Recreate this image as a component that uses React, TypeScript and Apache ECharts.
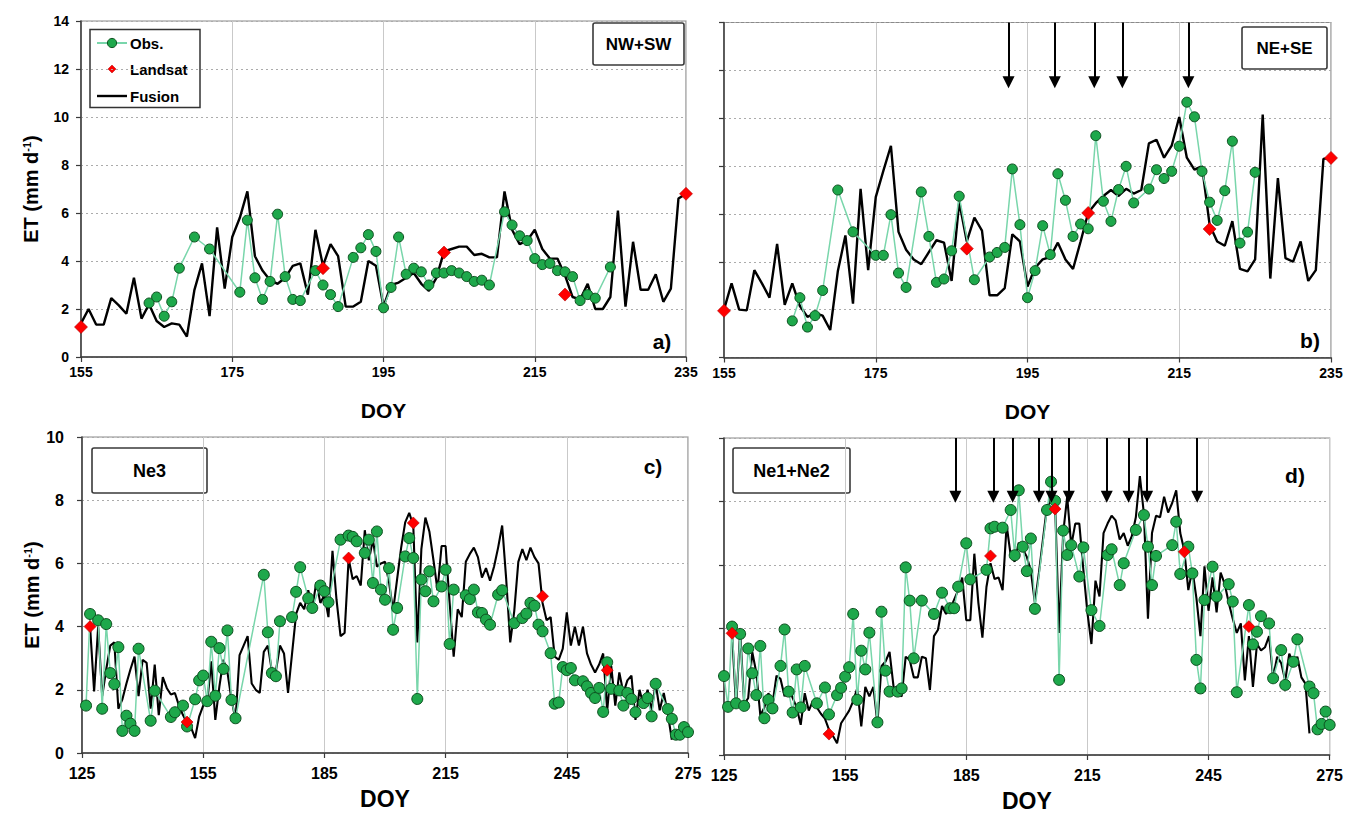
import React, { useEffect, useRef } from 'react';
import * as echarts from 'echarts';

const FONT = "'Liberation Sans', Arial, Helvetica, sans-serif";

// ---------- Panel a (NW+SW) ----------
const A_FUSION_START = 155;
const aFusion = [
  1.4, 2.0, 1.35, 1.35, 2.45, 2.15, 1.8, 3.3, 1.6, 2.2,
  1.5, 1.25, 1.4, 1.35, 0.85, 2.8, 3.9, 1.7, 5.4, 2.85,
  5.0, 5.8, 6.9, 4.2, 3.6, 3.2, 3.05, 3.3, 3.8, 3.9,
  2.6, 5.3, 3.8, 4.7, 4.2, 2.1, 2.1, 2.3, 4.0, 3.8,
  2.1, 3.0, 3.1, 3.3, 3.5, 3.05, 2.75, 3.3, 4.4, 4.5,
  4.6, 4.6, 4.25, 4.3, 4.15, 4.15, 6.9, 5.3, 4.7, 4.85,
  5.3, 4.5, 4.1, 4.1, 3.4, 2.5, 2.4, 3.05, 2.0, 2.0,
  2.5, 6.1, 2.1, 4.8, 2.8, 2.8, 3.45, 2.3, 2.85, 6.6, 6.8,
];
const aObs = [
  [164, 2.25], [165, 2.5], [166, 1.7], [167, 2.3], [168, 3.7], [170, 5.0], [172, 4.5],
  [176, 2.7], [177, 5.7], [178, 3.3], [179, 2.4], [180, 3.15], [181, 5.95], [182, 3.35],
  [183, 2.4], [184, 2.35], [186, 3.6], [187, 3.0], [188, 2.6], [189, 2.1], [191, 4.15],
  [192, 4.55], [193, 5.1], [194, 4.4], [195, 2.05], [196, 2.9], [197, 5.0], [198, 3.45],
  [199, 3.7], [200, 3.55], [201, 3.0], [202, 3.5], [203, 3.5], [204, 3.6], [205, 3.5],
  [206, 3.35], [207, 3.15], [208, 3.2], [209, 3.0], [211, 6.05], [212, 5.5], [213, 5.05],
  [214, 4.85], [215, 4.1], [216, 3.85], [217, 3.9], [218, 3.6], [219, 3.55], [220, 3.35],
  [221, 2.35], [222, 2.6], [223, 2.45], [225, 3.75],
];
const aLandsat = [[155, 1.25], [187, 3.7], [203, 4.35], [219, 2.6], [235, 6.8]];

// ---------- Panel b (NE+SE) ----------
const B_FUSION_START = 155;
const bFusion = [
  2.0, 3.1, 2.0, 1.97, 3.65, 3.1, 2.5, 4.75, 2.2, 3.1,
  2.15, 1.7, 1.85, 1.75, 1.15, 3.6, 5.1, 2.25, 7.05, 3.65,
  6.7, 7.8, 8.85, 5.25, 4.5, 4.1, 3.9, 4.4, 4.9, 4.8,
  3.2, 6.5, 4.85, 5.85, 5.3, 2.6, 2.6, 2.9, 5.15, 4.85,
  2.97, 3.75, 4.1, 4.2, 4.8, 4.1, 3.7, 4.85, 6.05, 6.45,
  6.75, 7.0, 6.75, 7.05, 6.85, 7.0, 8.95, 9.1, 8.35, 8.85,
  10.05, 8.35, 7.85, 8.0, 5.55, 4.85, 4.67, 5.7, 3.7, 3.6,
  4.1, 10.15, 3.3, 7.5, 4.15, 4.0, 4.85, 3.2, 3.65, 8.3, 8.35,
];
const bObs = [
  [164, 1.53], [165, 2.5], [166, 1.27], [167, 1.75], [168, 2.8], [170, 7.0], [172, 5.25],
  [175, 4.27], [176, 4.27], [177, 5.97], [178, 3.53], [179, 2.93], [181, 6.92], [182, 5.06],
  [183, 3.14], [184, 3.28], [185, 4.46], [186, 6.74], [188, 3.25], [190, 4.2], [191, 4.39],
  [192, 4.6], [193, 7.88], [194, 5.55], [195, 2.5], [196, 3.63], [197, 5.51], [198, 4.3],
  [199, 7.68], [200, 6.57], [201, 5.06], [202, 5.58], [203, 5.38], [204, 9.27], [205, 6.53],
  [206, 5.69], [207, 7.02], [208, 7.99], [209, 6.46], [211, 7.04], [212, 7.85], [213, 7.48],
  [214, 7.78], [215, 8.83], [216, 10.67], [217, 10.06], [218, 7.78], [219, 6.49], [220, 5.73],
  [221, 6.97], [222, 9.04], [223, 4.78], [224, 5.24], [225, 7.74],
];
const bLandsat = [[155, 1.95], [187, 4.55], [203, 6.04], [219, 5.37], [235, 8.34]];
const bArrows = [192.5, 198.6, 203.8, 207.5, 216.2];
const bArrowTop = 14;
const bArrowTip = 11.5;

// ---------- Panel c (Ne3) ----------
const C_FUSION_START = 127;
const cFusion = [
  4.0, 1.95, 4.0, 1.8, 2.65, 3.4, 3.5, 1.4, 1.7, 2.2,
  2.65, 3.05, 1.8, 2.95, 2.85, 1.4, 2.8, 1.2, 2.4, 2.05,
  1.85, 1.9, 1.5, 1.2, 0.95, 0.8, 0.47, 1.15, 1.5, 1.6,
  2.9, 1.05, 2.1, 2.95, 2.55, 1.7, 1.05, 3.1, 3.4, 3.7,
  2.2, 2.0, 1.9, 3.2, 3.4, 2.6, 2.6, 3.4, 3.15, 1.9,
  3.15, 4.4, 4.75, 4.55, 5.15, 4.6, 5.4, 4.75, 5.0, 4.3,
  6.4, 4.85, 3.7, 3.8, 6.15, 5.5, 5.6, 5.3, 7.05, 6.1,
  6.75, 5.9, 6.0, 6.05, 5.4, 4.5, 5.5, 6.5, 7.3, 7.6,
  7.2, 3.5, 6.45, 7.45, 7.0, 6.1, 5.15, 6.55, 6.55, 4.75,
  3.05, 4.55, 4.3, 6.05, 6.3, 6.5, 6.2, 5.55, 5.85, 5.45,
  5.9, 6.5, 7.2, 5.5, 3.5, 4.5, 6.05, 6.45, 6.1, 6.5,
  6.2, 6.0, 4.75, 4.2, 4.3, 3.05, 2.95, 3.3, 4.45, 3.4,
  4.0, 3.4, 4.0, 3.15, 2.8, 2.55, 2.8, 3.15, 1.35, 2.75,
  1.5, 2.55, 1.9, 2.3, 2.45, 1.05, 2.0, 1.5, 2.0, 1.35,
  2.2, 1.35, 1.9, 1.25, 0.42,
];
const cObs = [
  [126, 1.5], [127, 4.4], [129, 4.2], [130, 1.4], [131, 4.08], [132, 2.53], [133, 2.18],
  [134, 3.35], [135, 0.7], [136, 1.18], [137, 0.93], [138, 0.7], [139, 3.3], [142, 1.02],
  [143, 1.97], [147, 1.14], [148, 1.29], [150, 1.5], [151, 0.84], [153, 1.7], [154, 2.3],
  [155, 2.45], [156, 1.64], [157, 3.52], [158, 1.81], [159, 3.32], [160, 2.66], [161, 3.88],
  [162, 1.68], [163, 1.1], [170, 5.64], [171, 3.82], [172, 2.53], [173, 2.43], [174, 4.17],
  [177, 4.3], [178, 5.1], [179, 5.88], [181, 4.9], [182, 4.59], [184, 5.3], [185, 5.12],
  [186, 4.77], [189, 6.75], [191, 6.88], [192, 6.84], [193, 6.7], [195, 6.33], [196, 6.75],
  [197, 5.38], [198, 7.01], [199, 5.17], [200, 4.85], [201, 5.85], [202, 3.9], [203, 4.59],
  [205, 6.22], [206, 6.8], [207, 6.17], [208, 1.71], [209, 5.49], [210, 5.12], [211, 5.75],
  [212, 4.8], [214, 5.27], [215, 5.8], [216, 3.45], [217, 5.17], [220, 4.99], [221, 4.87],
  [222, 5.17], [223, 4.45], [224, 4.43], [225, 4.22], [226, 4.06], [228, 5.01], [229, 5.15],
  [232, 4.11], [234, 4.27], [235, 4.41], [236, 4.75], [237, 4.66], [238, 4.06], [239, 3.85],
  [241, 3.16], [242, 1.56], [243, 1.6], [244, 2.72], [245, 2.62], [246, 2.69], [247, 2.3],
  [249, 2.27], [250, 2.11], [251, 1.9], [252, 1.74], [253, 2.06], [254, 1.3], [255, 2.87],
  [256, 2.03], [258, 1.98], [259, 1.5], [260, 1.9], [261, 1.71], [262, 1.29], [264, 1.58],
  [265, 1.74], [266, 1.16], [267, 2.19], [270, 1.39], [271, 1.08], [272, 0.58], [273, 0.58],
  [274, 0.82], [275, 0.66],
];
const cLandsat = [[127, 4.0], [151, 0.98], [191, 6.17], [207, 7.28], [239, 4.96], [255, 2.62]];

// ---------- Panel d (Ne1+Ne2) ----------
const D_FUSION_START = 127;
const dFusion = [
  3.85, 1.5, 3.9, 1.6, 1.8, 3.25, 2.6, 1.25, 1.5, 1.95,
  1.6, 2.5, 2.4, 1.85, 2.15, 1.8, 1.5, 0.95, 1.95, 1.4,
  1.7, 1.5, 1.3, 1.15, 0.8, 0.6, 0.37, 1.0, 1.2, 1.4,
  1.7, 2.1, 0.9, 2.15, 1.85, 2.15, 1.0, 2.8, 2.95, 3.25,
  2.15, 1.95, 1.85, 3.1, 3.0, 2.45, 2.45, 3.1, 3.05, 2.05,
  3.75, 3.95, 4.7, 4.45, 4.6, 4.9, 5.2, 5.6, 4.25, 4.25,
  6.35, 4.8, 3.7, 5.3, 6.05, 5.55, 5.6, 5.2, 7.25, 6.3,
  6.1, 6.7, 6.5, 6.25, 5.8, 4.8, 5.75, 6.8, 7.85, 8.0,
  7.9, 3.85, 7.0, 8.15, 6.6, 7.3, 7.3, 5.85, 4.5, 3.5,
  5.5, 5.0, 7.0, 7.3, 7.55, 7.4, 6.8, 7.0, 6.6, 6.9,
  7.5, 8.8, 7.6, 4.3, 7.0, 7.55, 7.5, 8.15, 7.65, 7.95,
  8.35, 7.0, 6.45, 5.2, 5.85, 4.95, 3.75, 5.95, 4.55, 5.6,
  4.5, 5.75, 5.4, 4.8, 4.3, 3.85, 4.15, 2.35, 3.75, 2.15,
  3.5, 3.3, 3.4, 3.75, 2.45, 3.1, 2.9, 2.35, 3.2, 2.9,
  3.1, 2.45, 2.25, 0.68,
];
const dObs = [
  [125, 2.49], [126, 1.52], [127, 4.05], [128, 1.63], [129, 3.82], [130, 1.55], [131, 3.36],
  [132, 2.58], [133, 1.89], [134, 3.44], [135, 1.16], [136, 1.74], [137, 1.47], [139, 2.81],
  [140, 3.96], [141, 2.0], [142, 1.34], [143, 2.7], [144, 1.5], [145, 2.81], [148, 1.63],
  [150, 2.13], [151, 1.28], [153, 1.89], [154, 2.12], [155, 2.47], [156, 2.77], [157, 4.45],
  [158, 1.74], [159, 3.29], [160, 2.7], [161, 3.86], [163, 1.03], [164, 4.52], [165, 2.66],
  [166, 2.0], [168, 2.0], [169, 2.1], [170, 5.92], [171, 4.87], [172, 3.05], [174, 4.87],
  [177, 4.45], [179, 5.12], [181, 4.63], [182, 4.63], [183, 5.31], [185, 6.68], [186, 5.54],
  [190, 5.84], [191, 7.15], [192, 7.2], [194, 7.17], [196, 7.73], [197, 6.3], [198, 8.35],
  [199, 6.57], [200, 5.8], [201, 6.83], [202, 4.61], [205, 7.73], [206, 8.62], [207, 8.02],
  [208, 2.37], [209, 7.08], [210, 6.31], [211, 6.62], [213, 5.63], [214, 6.55], [216, 4.57],
  [218, 4.07], [220, 6.31], [221, 6.49], [223, 5.36], [224, 6.05], [227, 7.1], [229, 7.57],
  [230, 6.57], [231, 5.36], [232, 6.28], [236, 6.62], [237, 7.36], [238, 5.71], [240, 6.57],
  [241, 5.73], [242, 3.0], [243, 2.1], [244, 4.89], [246, 5.94], [247, 5.0], [250, 5.39],
  [251, 4.84], [252, 1.98], [255, 4.73], [256, 3.49], [257, 3.89], [258, 4.38], [260, 4.15],
  [261, 2.42], [263, 3.31], [264, 2.21], [266, 2.94], [267, 3.65], [270, 2.16], [271, 1.95],
  [272, 0.81], [273, 0.98], [274, 1.37], [275, 0.95],
];
const dLandsat = [[127, 3.84], [151, 0.66], [191, 6.28], [207, 7.76], [239, 6.41], [255, 4.05]];
const dArrows = [182.3, 191.7, 196.5, 203, 206.1, 210.4, 219.8, 225.2, 229.8, 242.2];
const dArrowTop = 10;
const dArrowTip = 8.15;

// legend entries
const legendNames = ['Obs.', 'Landsat', 'Fusion'];

// axis ranges (x axes are offset to their first tick so that ticks fall on 155/175.. and 125/155..)
const AB_X0 = 155, AB_X1 = 235, AB_STEP = 20;
const CD_X0 = 125, CD_X1 = 275, CD_STEP = 30;
const AB_YMAX = 14, CD_YMAX = 10, Y_STEP = 2;

const OBS_LINE = '#79d6ab';
const OBS_FILL = '#1ea84b';
const OBS_EDGE = '#0d4f1f';
const AXIS_COLOR = '#3a3a3a';

function shiftPairs(pairs: number[][], x0: number) {
  return pairs.map(([x, y]) => [x - x0, y]);
}
function dailySeries(start: number, vals: number[], x0: number) {
  return vals.map((v, i) => [start + i - x0, v]);
}

function App() {
  const ref = useRef<HTMLDivElement>(null);
  useEffect(() => {
    if (!ref.current) return;
    const chart = echarts.init(ref.current, undefined, { renderer: 'svg' });

    const grids = [
      { left: 81, top: 21, width: 605, height: 336 },
      { left: 724, top: 22.5, width: 607, height: 335 },
      { left: 82, top: 437, width: 606, height: 316 },
      { left: 724, top: 438, width: 609, height: 317 },
    ].map((g) => ({ ...g, show: true, borderColor: '#8a8a8a', borderWidth: 1.2, backgroundColor: '#fff' }));

    const mkX = (i: number, x0: number, x1: number, step: number, big: boolean) => ({
      type: 'value',
      gridIndex: i,
      min: 0,
      max: x1 - x0,
      interval: step,
      name: 'DOY',
      nameLocation: 'middle',
      nameGap: big ? 34 : 43,
      nameTextStyle: { fontFamily: FONT, fontWeight: 'bold', fontSize: big ? 23 : 21, color: '#000' },
      axisLine: { show: true, onZero: false, lineStyle: { color: AXIS_COLOR, width: 1.5 } },
      axisTick: { show: true, length: 5, lineStyle: { color: AXIS_COLOR, width: 1.2 } },
      axisLabel: {
        show: true,
        margin: big ? 12 : 8,
        fontFamily: FONT,
        fontWeight: 'bold',
        fontSize: big ? 16 : 14,
        color: '#000',
        formatter: (v: number) => String(v + x0),
      },
      splitLine: { show: true, lineStyle: { color: '#c9c9c9', width: 1, type: 'solid' } },
    });

    const mkY = (i: number, max: number, labels: boolean, big: boolean) => ({
      type: 'value',
      gridIndex: i,
      min: 0,
      max,
      interval: Y_STEP,
      name: labels ? 'ET (mm d{sup|-1})' : '',
      nameLocation: 'middle',
      nameGap: 40,
      nameRotate: 90,
      nameTextStyle: {
        fontFamily: FONT,
        fontWeight: 'bold',
        fontSize: 20,
        color: '#000',
        rich: { sup: { fontFamily: FONT, fontWeight: 'bold', fontSize: 11, color: '#000', verticalAlign: 'top' } },
      },
      axisLine: { show: true, onZero: false, lineStyle: { color: AXIS_COLOR, width: 1.5 } },
      axisTick: { show: true, length: 5, lineStyle: { color: AXIS_COLOR, width: 1.2 } },
      axisLabel: {
        show: labels,
        margin: big ? 18 : 12,
        fontFamily: FONT,
        fontWeight: 'bold',
        fontSize: big ? 16 : 14,
        color: '#000',
      },
      splitLine: { show: true, lineStyle: { color: '#ababab', width: 1, type: [2, 3] } },
    });

    const xAxis = [
      mkX(0, AB_X0, AB_X1, AB_STEP, false),
      mkX(1, AB_X0, AB_X1, AB_STEP, false),
      mkX(2, CD_X0, CD_X1, CD_STEP, true),
      mkX(3, CD_X0, CD_X1, CD_STEP, true),
    ];
    const yAxis = [
      mkY(0, AB_YMAX, true, false),
      mkY(1, AB_YMAX, false, false),
      mkY(2, CD_YMAX, true, true),
      mkY(3, CD_YMAX, false, true),
    ];

    const arrowLines = (xs: number[], x0: number, top: number, tip: number) => ({
      silent: true,
      animation: false,
      symbol: ['none', 'triangle'],
      symbolSize: 12,
      label: { show: false },
      lineStyle: { color: '#000', width: 2, type: 'solid', opacity: 1 },
      emphasis: { disabled: true },
      data: xs.map((x) => [{ coord: [x - x0, top] }, { coord: [x - x0, tip] }]),
    });

    const panel = (
      i: number,
      x0: number,
      fusionStart: number,
      fusion: number[],
      obs: number[][],
      landsat: number[][],
      big: boolean,
      arrows?: any,
    ) => [
      {
        name: legendNames[2],
        type: 'line',
        xAxisIndex: i,
        yAxisIndex: i,
        data: dailySeries(fusionStart, fusion, x0),
        showSymbol: false,
        symbol: 'none',
        lineStyle: { color: '#000', width: big ? 2.1 : 2.4 },
        itemStyle: { color: '#000' },
        z: 2,
        ...(arrows ? { markLine: arrows } : {}),
      },
      {
        name: legendNames[0],
        type: 'line',
        xAxisIndex: i,
        yAxisIndex: i,
        data: shiftPairs(obs, x0),
        symbol: 'circle',
        symbolSize: big ? 11 : 10,
        lineStyle: { color: OBS_LINE, width: 1.5 },
        itemStyle: { color: OBS_FILL, borderColor: OBS_EDGE, borderWidth: 1 },
        z: 3,
      },
      {
        name: legendNames[1],
        type: 'scatter',
        xAxisIndex: i,
        yAxisIndex: i,
        data: shiftPairs(landsat, x0),
        symbol: 'diamond',
        symbolSize: big ? 12 : 13,
        itemStyle: { color: '#ff0000', borderColor: '#b00000', borderWidth: 0.6, opacity: 1 },
        z: 4,
      },
    ];

    const series = [
      ...panel(0, AB_X0, A_FUSION_START, aFusion, aObs, aLandsat, false),
      ...panel(1, AB_X0, B_FUSION_START, bFusion, bObs, bLandsat, false, arrowLines(bArrows, AB_X0, bArrowTop, bArrowTip)),
      ...panel(2, CD_X0, C_FUSION_START, cFusion, cObs, cLandsat, true),
      ...panel(3, CD_X0, D_FUSION_START, dFusion, dObs, dLandsat, true, arrowLines(dArrows, CD_X0, dArrowTop, dArrowTip)),
    ];

    const box = (x: number, y: number, w: number, h: number, text: string, size: number) => ({
      type: 'group',
      z: 50,
      children: [
        { type: 'rect', shape: { x, y, width: w, height: h, r: 2 }, style: { fill: '#fff', stroke: '#3a3a3a', lineWidth: 1.6 } },
        {
          type: 'text',
          x: x + w / 2,
          y: y + h / 2,
          style: { text, fill: '#000', font: `bold ${size}px ${FONT}`, align: 'center', verticalAlign: 'middle' },
        },
      ],
    });
    const tag = (x: number, y: number, text: string) => ({
      type: 'text',
      z: 50,
      x,
      y,
      style: { text, fill: '#000', font: `bold 21px ${FONT}`, align: 'center', verticalAlign: 'middle' },
    });

    // legend box drawn as graphic (panel a)
    const legendText = (y: number, text: string) => ({
      type: 'text',
      x: 130,
      y,
      style: { text, fill: '#000', font: `bold 15px ${FONT}`, align: 'left', verticalAlign: 'middle' },
    });
    const legend = {
      type: 'group',
      z: 60,
      children: [
        { type: 'rect', shape: { x: 90, y: 29.5, width: 110, height: 78 }, style: { fill: '#fff', stroke: '#333', lineWidth: 1.5 } },
        { type: 'line', shape: { x1: 97, y1: 43, x2: 127, y2: 43 }, style: { stroke: OBS_LINE, lineWidth: 2 } },
        { type: 'circle', shape: { cx: 112, cy: 43, r: 4.6 }, style: { fill: OBS_FILL, stroke: OBS_EDGE, lineWidth: 1 } },
        legendText(43, legendNames[0]),
        {
          type: 'polygon',
          shape: { points: [[112, 65], [116, 69], [112, 73], [108, 69]] },
          style: { fill: '#ff0000', stroke: '#b00000', lineWidth: 0.5 },
        },
        legendText(69.5, legendNames[1]),
        { type: 'line', shape: { x1: 97, y1: 96, x2: 127, y2: 96 }, style: { stroke: '#000', lineWidth: 2.4 } },
        legendText(96, legendNames[2]),
      ],
    };

    chart.setOption({
      animation: false,
      backgroundColor: '#fff',
      grid: grids,
      xAxis,
      yAxis,
      graphic: [
        legend,
        box(593, 23, 91, 42, 'NW+SW', 17),
        box(1242, 27, 85, 42, 'NE+SE', 17),
        box(92, 448, 115, 45, 'Ne3', 18),
        box(733, 448, 117, 45, 'Ne1+Ne2', 18),
        tag(662, 341, 'a)'),
        tag(1310, 340, 'b)'),
        tag(653, 466, 'c)'),
        tag(1295, 475, 'd)'),
      ],
      series,
    });
    return () => chart.dispose();
  }, []);
  return <div ref={ref} style={{ position: 'absolute', left: 0, top: 0, width: 1346, height: 814 }} />;
}

export default App;
